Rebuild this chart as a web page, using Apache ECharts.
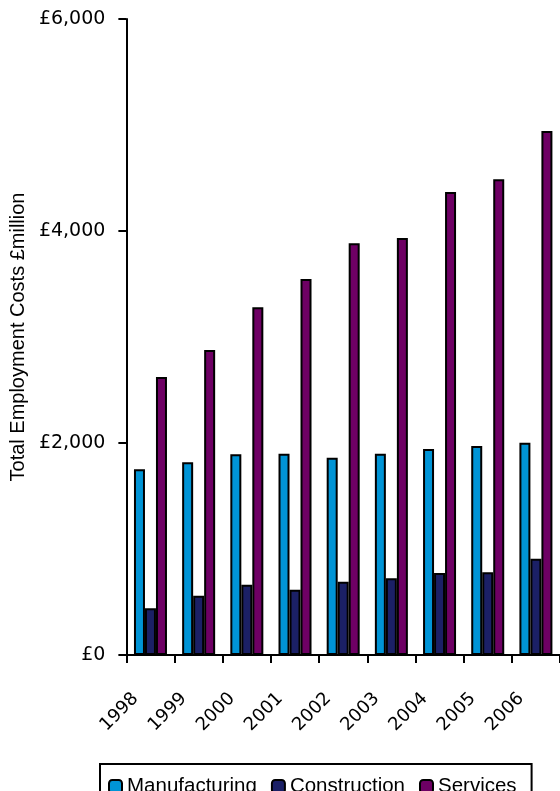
<!DOCTYPE html>
<html>
<head>
<meta charset="utf-8">
<script src="https://cdn.jsdelivr.net/npm/echarts@6/dist/echarts.min.js"></script>
<style>
html,body{margin:0;padding:0;background:#fff;}
#chart{width:560px;height:791px;}
</style>
</head>
<body>
<div id="chart"></div>
<script>
var years = ['1998','1999','2000','2001','2002','2003','2004','2005','2006'];
var manufacturing = [1752, 1818, 1893, 1899, 1861, 1899, 1943, 1971, 2002];
var construction = [440, 560, 663, 616, 692, 723, 774, 781, 908];
var services = [2623, 2877, 3280, 3547, 3885, 3933, 4368, 4488, 4944];
var yTicks = [0, 2000, 4000, 6000];

var FONT = 'DejaVu Sans';
var FONT2 = 'Liberation Sans';
var chart = echarts.init(document.getElementById('chart'), null, {renderer: 'canvas'});

function fmt(v) {
  return '£' + String(v).replace(/\B(?=(\d{3})+(?!\d))/g, ',');
}

function bar(name, data, color) {
  return {
    name: name,
    type: 'bar',
    data: data,
    barWidth: 11,
    barGap: '0%',
    itemStyle: {color: color, borderColor: '#000', borderWidth: 2},
    emphasis: {disabled: true},
    animation: false
  };
}

chart.setOption({
  animation: false,
  textStyle: {fontFamily: FONT},
  grid: {left: 123, top: 19, width: 439, height: 636, containLabel: false},
  legend: {
    left: 100,
    top: 764,
    padding: [12, 15, 12, 8],
    borderColor: '#000',
    borderWidth: 2,
    itemWidth: 13,
    itemHeight: 13,
    itemGap: 14,
    itemStyle: {borderColor: '#000', borderWidth: 2},
    textStyle: {fontFamily: FONT2, fontSize: 20.5, color: '#000'},
    data: ['Manufacturing', 'Construction', 'Services']
  },
  xAxis: {
    type: 'category',
    data: years,
    boundaryGap: true,
    axisLine: {lineStyle: {color: '#000', width: 2}},
    axisTick: {show: true, length: 8, lineStyle: {color: '#000', width: 2}},
    axisLabel: {
      rotate: 45,
      interval: 0,
      margin: 26,
      padding: [0, 21, 0, 0],
      fontFamily: FONT,
      fontSize: 18,
      color: '#000'
    },
    splitLine: {show: false}
  },
  yAxis: {
    type: 'value',
    min: yTicks[0],
    max: yTicks[yTicks.length - 1],
    interval: 2000,
    name: 'Total Employment Costs £million',
    nameLocation: 'middle',
    nameGap: 92,
    nameTextStyle: {fontFamily: FONT2, fontSize: 20, color: '#000'},
    axisLine: {show: true, lineStyle: {color: '#000', width: 2}},
    axisTick: {show: true, length: 8, lineStyle: {color: '#000', width: 2}},
    axisLabel: {
      margin: 21,
      fontFamily: FONT,
      fontSize: 19,
      color: '#000',
      formatter: fmt
    },
    splitLine: {show: false}
  },
  series: [
    bar('Manufacturing', manufacturing, '#0094d6'),
    bar('Construction', construction, '#1b2066'),
    bar('Services', services, '#6e0064')
  ]
});
</script>
</body>
</html>
